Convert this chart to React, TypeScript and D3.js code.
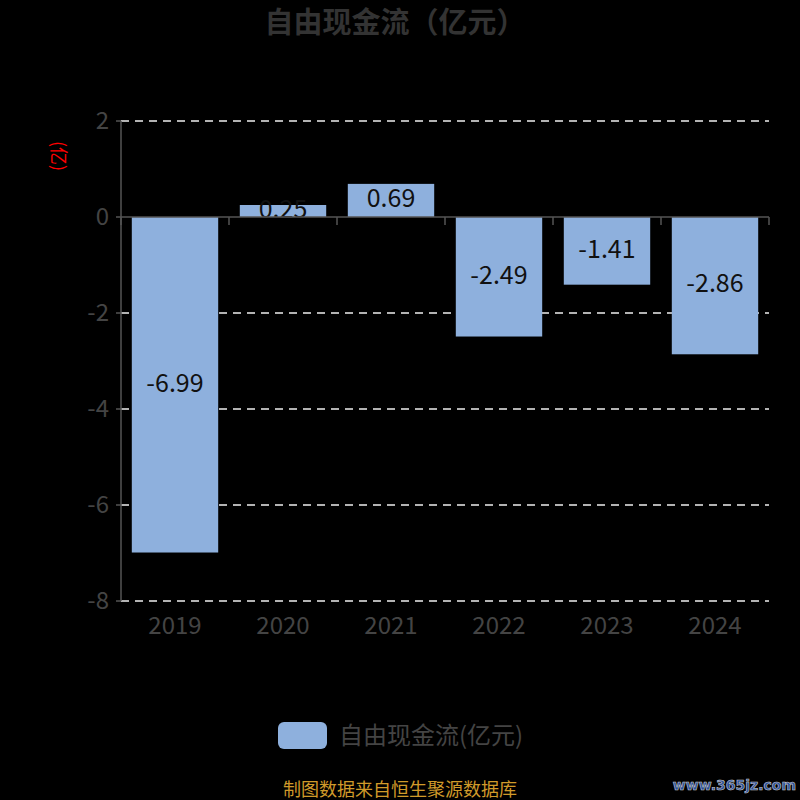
import React from "react";
import * as d3 from "d3";

const categories = ["2019", "2020", "2021", "2022", "2023", "2024"];
const values = [-6.99, 0.25, 0.69, -2.49, -1.41, -2.86];
const yTicks = [2, 0, -2, -4, -6, -8];
const seriesName = "自由现金流(亿元)";
const title = "自由现金流（亿元）";
const unitLabel = "(亿)";
const footer = "制图数据来自恒生聚源数据库";
const watermark = "www.365jz.com";

const W = 800, H = 800;
const left = 121, right = 769, top = 121, bottom = 601;
const font = "'Noto Sans CJK SC', 'Noto Sans', sans-serif";

export default function App() {
  const x = d3.scaleBand<string>().domain(categories).range([left, right]).paddingInner(0.2).paddingOuter(0.1);
  const xb = d3.scaleBand<string>().domain(categories).range([left, right]);
  const y = d3.scaleLinear().domain([-8, 2]).range([bottom, top]);
  const axisGray = "#555";
  const textGray = "#444";
  return (
    <svg width={W} height={H} style={{ position: "absolute", left: 0, top: 0, background: "#000" }}>
      <rect x={0} y={0} width={W} height={H} fill="#000" />
      <text x={395} y={33} textAnchor="middle" fontFamily={font} fontWeight="bold" fontSize={29} fill="#333">{title}</text>
      {yTicks.filter(t => t !== 0).map(t => (
        <line key={t} x1={left} x2={right} y1={y(t)} y2={y(t)} stroke="#eee" strokeWidth={1.5} strokeDasharray="8,6" />
      ))}
      {values.map((v, i) => {
        const c = categories[i];
        const y0 = y(Math.max(0, v)), y1 = y(Math.min(0, v));
        return (
          <g key={c}>
            <rect x={x(c)!} y={y0} width={x.bandwidth()} height={y1 - y0} fill="#8EB0DD" />
            <text x={x(c)! + x.bandwidth() / 2} y={(y0 + y1) / 2 - 2} dy="0.35em" textAnchor="middle" fontFamily={font} fontSize={25} fill="#111">{v.toFixed(2)}</text>
          </g>
        );
      })}
      {/* y axis */}
      <line x1={left} x2={left} y1={top} y2={bottom} stroke={axisGray} strokeWidth={1.5} />
      {yTicks.map(t => (
        <g key={t}>
          <line x1={left - 5} x2={left} y1={y(t)} y2={y(t)} stroke={axisGray} strokeWidth={1.5} />
          <text x={left - 12} y={y(t)} dy="0.35em" textAnchor="end" fontFamily={font} fontSize={24} fill={textGray}>{t}</text>
        </g>
      ))}
      {/* x axis */}
      <line x1={left} x2={right} y1={y(0)} y2={y(0)} stroke={axisGray} strokeWidth={1.5} />
      {categories.map(c => (
        <line key={c} x1={xb(c)! + xb.bandwidth()} x2={xb(c)! + xb.bandwidth()} y1={y(0)} y2={y(0) + 8} stroke={axisGray} strokeWidth={1.5} />
      ))}
      <line x1={left} x2={left} y1={y(0)} y2={y(0) + 8} stroke={axisGray} strokeWidth={1.5} />
      {categories.map(c => (
        <text key={c} x={xb(c)! + xb.bandwidth() / 2} y={634} textAnchor="middle" fontFamily={font} fontSize={24} fill={textGray}>{c}</text>
      ))}
      <text transform={`translate(58,156) rotate(90)`} textAnchor="middle" dy="0.35em" fontFamily={font} fontSize={18} fill="#f00">{unitLabel}</text>
      {/* legend */}
      <rect x={278} y={722} width={49} height={27} rx={6} fill="#8EB0DD" />
      <text x={339} y={744} fontFamily={font} fontSize={24} fill={textGray}>{seriesName}</text>
      <text x={283} y={796} fontFamily={font} fontSize={18} fill="#D09A2A">{footer}</text>
      <text x={796} y={790} textAnchor="end" fontFamily="'DejaVu Sans', sans-serif" fontWeight="bold" fontSize={14} fill="#2a4f9a" stroke="#ccc" strokeWidth={0.6}>{watermark}</text>
    </svg>
  );
}
